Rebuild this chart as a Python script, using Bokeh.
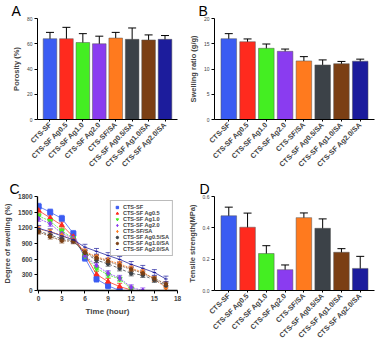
from math import pi
from bokeh.plotting import figure
from bokeh.layouts import gridplot
from bokeh.models import (ColumnDataSource, Whisker, FactorRange, Range1d,
                          FixedTicker, Legend, LegendItem, NumeralTickFormatter)
from bokeh.embed import file_html
from bokeh.resources import INLINE

FONT = "Liberation Sans"

samples = ["CTS-SF", "CTS-SF Ag0.5", "CTS-SF Ag1.0", "CTS-SF Ag2.0",
           "CTS-SF/SA", "CTS-SF Ag0.5/SA", "CTS-SF Ag1.0/SA", "CTS-SF Ag2.0/SA"]
colors = ["#3b5cf2", "#ff2a1e", "#44ee22", "#8a3cf0",
          "#ff7a1e", "#3c4248", "#7b3f14", "#1c1c9c"]

# Panel A - porosity (%)
porosity = [64, 64, 61, 60, 64.5, 63.5, 63, 63.5]
porosity_err = [5, 9, 7, 6, 4.5, 9, 4, 3]
porosity_ticks = [0, 20, 40, 60, 80]

# Panel B - swelling ratio (g/g)
swelling_ratio = [16.0, 15.4, 14.1, 13.5, 11.6, 10.8, 11.05, 11.55]
swelling_ratio_err = [1.0, 0.55, 0.85, 0.45, 0.85, 1.0, 0.45, 0.4]
swelling_ticks = [0, 5, 10, 15, 20]

# Panel D - tensile strength (MPa)
tensile = [0.477, 0.404, 0.236, 0.133, 0.465, 0.397, 0.244, 0.141]
tensile_err = [0.055, 0.09, 0.05, 0.03, 0.03, 0.06, 0.023, 0.077]
tensile_ticks = [0.0, 0.2, 0.4, 0.6]

# Panel C - degree of swelling (%) vs time (hour)
time_h = [0, 1.5, 3, 4.5, 6, 7.5, 9, 10.5, 12, 13.5, 15, 16.5]
deg_cts_sf = [1610, 1500, 1380, 1090, 620, 220, 90, 0]
deg_ag05 = [1530, 1390, 1250, 1030, 690, 310, 170, 75, 10]
deg_ag10 = [1425, 1330, 1140, 1000, 660, 425, 300, 220, 30]
deg_ag20 = [1375, 1280, 1090, 1000, 670, 480, 330, 240, 60, 0]
deg_sa = [1175, 1125, 1060, 970, 750, 645, 580, 510, 425, 355, 220, 50]
deg_ag05_sa = [1145, 1060, 990, 955, 720, 580, 510, 420, 325, 295, 200, 95]
deg_ag10_sa = [1125, 1030, 955, 940, 730, 625, 560, 480, 405, 330, 230, 125]
deg_ag20_sa = [1190, 1125, 1045, 970, 830, 750, 670, 595, 500, 425, 345, 220]
deg_err = [60, 60, 55, 50, 45, 45, 45, 55]
time_ticks = [0, 3, 6, 9, 12, 15, 18]
deg_ticks = [0, 300, 600, 900, 1200, 1500, 1800]


def style_axes(p, tick_size="5px", tick_bold=False):
    p.xgrid.visible = False
    p.ygrid.visible = False
    p.outline_line_color = None
    p.background_fill_color = "white"
    p.border_fill_color = "white"
    for ax in (p.xaxis[0], p.yaxis[0]):
        ax.axis_line_color = "black"
        ax.axis_line_width = 1
        ax.major_tick_line_color = "black"
        ax.major_tick_out = 3
        ax.major_tick_in = 0
        ax.minor_tick_line_color = None
        ax.major_label_standoff = 2
        ax.axis_label_standoff = 3
        ax.major_label_text_font = FONT
        ax.axis_label_text_font = FONT
        ax.axis_label_text_font_style = "bold"
        ax.axis_label_text_font_size = "7.5px"
    p.yaxis[0].major_label_text_font_size = tick_size
    p.yaxis[0].major_label_text_font_style = "bold" if tick_bold else "normal"


def set_letter(p, text, offset, standoff=0):
    p.title.text = text
    p.title.align = "left"
    p.title.vertical_align = "bottom"
    p.title.offset = offset
    p.title.standoff = standoff
    p.title.text_font = FONT
    p.title.text_font_size = "14px"
    p.title.text_font_style = "normal"
    p.title.text_color = "black"


def bar_panel(vals, errs, ymax, ticks, ylabel, letter, w, h, bl, br, bt, bb, fmt=None,
              offset=-21):
    p = figure(x_range=FactorRange(*samples, range_padding=0.065),
               y_range=Range1d(0, ymax), width=w, height=h,
               output_backend="svg", toolbar_location=None,
               min_border_left=bl, min_border_right=br,
               min_border_top=bt, min_border_bottom=bb)
    src = ColumnDataSource(dict(x=samples, top=vals, color=colors,
                                upper=[v + e for v, e in zip(vals, errs)],
                                lower=[v - e for v, e in zip(vals, errs)]))
    p.vbar(x="x", top="top", width=0.83, fill_color="color", line_color="#555555",
           line_width=0.5, source=src)
    wh = Whisker(base="x", upper="upper", lower="lower", source=src,
                 line_color="black", line_width=1)
    wh.upper_head.size = 8
    wh.lower_head.size = 8
    wh.upper_head.line_width = 1
    wh.lower_head.line_width = 1
    p.add_layout(wh)
    style_axes(p)
    p.yaxis.ticker = FixedTicker(ticks=ticks)
    if fmt:
        p.yaxis.formatter = NumeralTickFormatter(format=fmt)
    p.yaxis.axis_label = ylabel
    p.xaxis.major_label_orientation = pi / 4
    p.xaxis.major_label_text_font_size = "7.2px"
    p.xaxis.major_label_text_font_style = "bold"
    p.xaxis.major_tick_out = 2
    set_letter(p, letter, offset)
    return p


pA = bar_panel(porosity, porosity_err, 80, porosity_ticks, "Porosity (%)", "A",
               184, 178, 22, 2, 4, 59, offset=-26)
pB = bar_panel(swelling_ratio, swelling_ratio_err, 20, swelling_ticks,
               "Swelling ratio (g/g)", "B", 192, 178, 28, 2, 4, 59, offset=-16)
pD = bar_panel(tensile, tensile_err, 0.6, tensile_ticks, "Tensile strength(MPa)", "D",
               192, 172, 28, 2, 15, 54, fmt="0.0", offset=-15)

# Panel C
pC = figure(x_range=Range1d(-0.15, 18), y_range=Range1d(0, 1800), width=184, height=172,
            output_backend="svg", toolbar_location=None,
            min_border_left=29, min_border_right=7, min_border_top=15, min_border_bottom=60)
style_axes(pC, tick_size="6.5px", tick_bold=True)
pC.xaxis.major_label_text_font_size = "6.5px"
pC.xaxis.major_label_text_font_style = "bold"
pC.xaxis.ticker = FixedTicker(ticks=time_ticks)
pC.yaxis.ticker = FixedTicker(ticks=deg_ticks)
pC.xaxis.axis_label = "Time (hour)"
pC.yaxis.axis_label = "Degree of swelling (%)"
pC.xaxis.axis_label_text_font_size = "8px"
pC.xaxis.axis_line_width = 1.3
pC.yaxis.axis_line_width = 1.3
set_letter(pC, "C", -28)

series = [deg_cts_sf, deg_ag05, deg_ag10, deg_ag20, deg_sa, deg_ag05_sa, deg_ag10_sa, deg_ag20_sa]
markers = ["square", "triangle", "inverted_triangle", "diamond", "diamond",
           "circle", "circle", "dash"]
dashes = ["solid", "solid", "2 1", "2 1", "2 1", "3 2", "2 1", "solid"]
items = []
for i, (vals, col) in enumerate(zip(series, colors)):
    t = time_h[:len(vals)]
    src = ColumnDataSource(dict(t=t, v=vals,
                                up=[v + deg_err[i] for v in vals],
                                lo=[max(v - deg_err[i], 0) for v in vals]))
    pC.line("t", "v", source=src, line_color=col, line_width=1, line_alpha=0.75,
            line_dash=dashes[i])
    wh = Whisker(base="t", upper="up", lower="lo", source=src, line_color=col,
                 line_width=0.7, line_alpha=0.8)
    wh.upper_head.size = 5
    wh.lower_head.size = 5
    wh.upper_head.line_color = col
    wh.lower_head.line_color = col
    wh.upper_head.line_width = 0.7
    wh.lower_head.line_width = 0.7
    pC.add_layout(wh)
    r = pC.scatter("t", "v", source=src, marker=markers[i], size=5 if i < 5 else 3.5,
                   fill_color=col, line_color=col)
    items.append(LegendItem(label=samples[i], renderers=[r]))

leg = Legend(items=items, location="top_right", margin=4, padding=3, spacing=0,
             label_text_font=FONT, label_text_font_size="5.6px",
             label_text_font_style="bold", label_height=6, glyph_height=6,
             glyph_width=6, label_standoff=3, border_line_color="#777777",
             border_line_width=0.8, background_fill_alpha=1)
pC.add_layout(leg)

grid = gridplot([[pA, pB], [pC, pD]], toolbar_location=None)
open("out.html", "w").write(file_html(grid, INLINE))
